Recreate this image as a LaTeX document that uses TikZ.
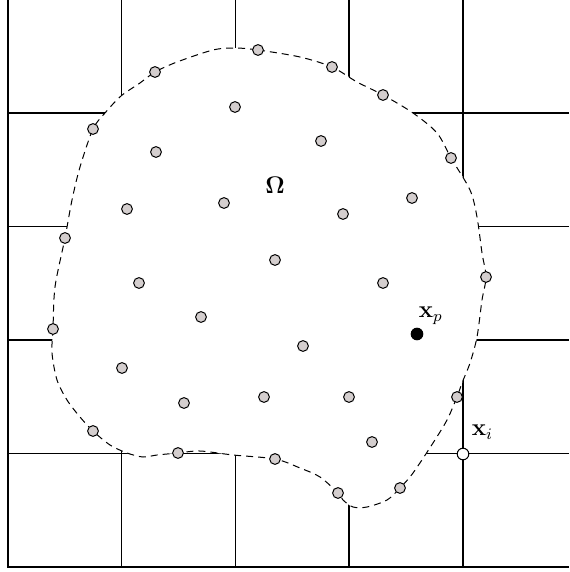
\documentclass[tikz,border=0pt]{standalone}
\usepackage{amsmath,amssymb}
\usetikzlibrary{positioning}
\definecolor{ptgray}{RGB}{212,206,206}

\begin{document}
\begin{tikzpicture}[x=0.5pt,y=-0.5pt,
  gridline/.style={line width=0.6pt},
  frameline/.style={line width=1pt},
  omegaline/.style={fill=white,line width=0.5pt,dash pattern=on 3.5pt off 2.5pt},
  dot/.style={circle,draw,fill=ptgray,line width=0.5pt,inner sep=0pt,minimum size=5.4pt},
  bigdot/.style={circle,draw,line width=0.5pt,inner sep=0pt,minimum size=5.8pt},
  lab/.style={font=\large,inner sep=1pt}]
  \useasboundingbox (0,0) rectangle (569,572);
  % background grid
  \foreach \x in {121.5,235.5,349,463} \draw[gridline] (\x,0) -- (\x,567);
  \foreach \y in {113,226.5,340,453.5} \draw[gridline] (7.5,\y) -- (569,\y);
  \draw[frameline] (7.5,0) -- (7.5,567) -- (569,567);
  % the domain Omega
  \draw[omegaline] plot[smooth cycle,tension=0.5] coordinates {
    (235,48) (258,50) (300,57) (332,67) (357,82) (383,95) (413,113) (437,133)
    (451,158) (470,190) (477,217) (482,253) (486,277) (482,300)
    (477,337) (470,363) (462,383) (457,397) (447,420) (433,443) (413,473)
    (400,488) (387,500) (367,507) (353,507) (343,500) (338,493) (320,477)
    (300,468) (275,459) (233,455) (200,451) (178,453) (157,455) (143,457)
    (127,453) (110,445) (93,431) (80,417) (67,400) (57,380) (52,353) (53,329)
    (55,287) (65,238) (72,200) (80,167) (93,129) (105,113) (121,96) (140,83)
    (155,72) (177,62) (213,50)};
  % particles on the boundary
  \foreach \x/\y [count=\i] in {258/50,332/67,383/95,451/158,486/277,457/397,
      400/488,338/493,275/459,178/453,93/431,53/329,65/238,93/129,155/72}
    \node[dot] (b\i) at (\x,\y) {};
  % particles inside
  \foreach \x/\y [count=\i] in {235/107,321/141,156/152,127/209,224/203,343/214,
      412/198,275/260,139/283,383/283,201/317,303/346,122/368,184/403,264/397,
      349/397,372/442}
    \node[dot] (q\i) at (\x,\y) {};
  \node[lab] (omega) at (275,185) {$\boldsymbol{\Omega}$};
  % x_p and x_i
  \node[bigdot,fill=black] (xp) at (417,334) {};
  \node[lab,above right=1.5pt and -2.5pt of xp] (xplab) {$\mathbf{x}_p$};
  \node[bigdot,fill=white] (xi) at (463,454) {};
  \node[lab,above right=4pt and 1pt of xi] (xilab) {$\mathbf{x}_i$};
\end{tikzpicture}
\end{document}
